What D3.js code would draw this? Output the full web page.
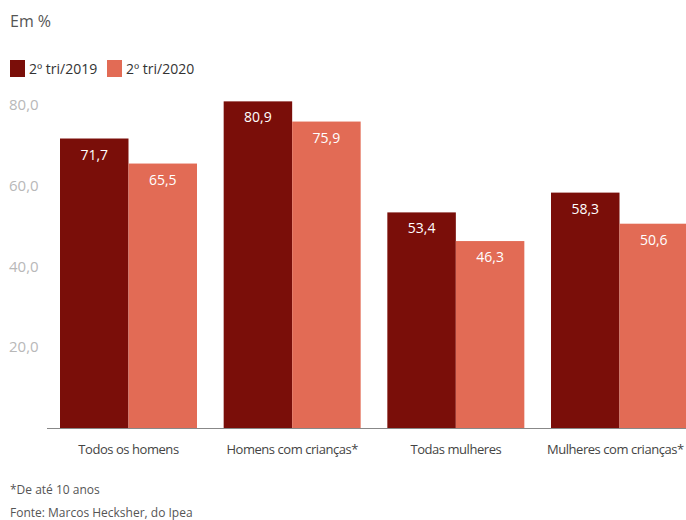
<!DOCTYPE html>
<html>
<head>
<meta charset="utf-8">
<script src="https://cdn.jsdelivr.net/npm/d3@7"></script>
<style>
  body { margin: 0; background: #fff; }
  svg { display: block; font-family: "Open Sans", sans-serif; }
</style>
</head>
<body>
<svg width="686" height="520"></svg>
<script>
// data
var categories = ["Todos os homens", "Homens com crianças*", "Todas mulheres", "Mulheres com crianças*"];
var series = ["2º tri/2019", "2º tri/2020"];
var values2019 = [71.7, 80.9, 53.4, 58.3];
var values2020 = [65.5, 75.9, 46.3, 50.6];
var yTicks = [20, 40, 60, 80];
var colors = ["#7a0e09", "#e26b55"];

var svg = d3.select("svg");
var W = 686;

var x = d3.scaleBand().domain(categories).range([60, 688]).paddingInner(0.163).paddingOuter(0);
var x1 = d3.scaleBand().domain(series).range([0, x.bandwidth()]);
var y = d3.scaleLinear().domain([0, 80]).range([428, 105]);

var rows = categories.map(function(c, i) {
  return {cat: c, vals: [values2019[i], values2020[i]]};
});

// header
svg.append("text").attr("x", 10).attr("y", 27)
  .attr("font-size", 16).attr("fill", "#555").text("Em %");

// legend
var leg = svg.append("g");
var legX = [10, 107];
series.forEach(function(s, i) {
  leg.append("rect").attr("x", legX[i]).attr("y", 60).attr("width", 15).attr("height", 17)
    .attr("fill", colors[i]);
  leg.append("text").attr("x", legX[i] + 19).attr("y", 74)
    .attr("font-size", 14).attr("fill", "#333").text(s);
});

// y tick labels (no lines)
svg.append("g").selectAll("text")
  .data(yTicks).enter().append("text")
  .attr("x", 9).attr("y", function(d) { return y(d) + 5; })
  .attr("font-size", 15).attr("fill", "#b8b8b8")
  .text(function(d) { return d3.format(".1f")(d).replace(".", ","); });

// bars
var g = svg.append("g").selectAll("g")
  .data(rows).enter().append("g")
  .attr("transform", function(d) { return "translate(" + x(d.cat) + ",0)"; });

g.selectAll("rect")
  .data(function(d) { return d.vals.map(function(v, i) { return {s: series[i], v: v, i: i}; }); })
  .enter().append("rect")
  .attr("x", function(d) { return x1(d.s); })
  .attr("width", x1.bandwidth())
  .attr("y", function(d) { return y(d.v); })
  .attr("height", function(d) { return y(0) - y(d.v); })
  .attr("fill", function(d) { return colors[d.i]; });

g.selectAll("text")
  .data(function(d) { return d.vals.map(function(v, i) { return {s: series[i], v: v}; }); })
  .enter().append("text")
  .attr("x", function(d) { return x1(d.s) + x1.bandwidth() / 2; })
  .attr("y", function(d) { return y(d.v) + 21; })
  .attr("text-anchor", "middle")
  .attr("font-size", 14).attr("fill", "#fff")
  .text(function(d) { return d3.format(".1f")(d.v).replace(".", ","); });

// baseline
svg.append("line").attr("x1", 47).attr("x2", W)
  .attr("y1", y(0) + 0.5).attr("y2", y(0) + 0.5)
  .attr("stroke", "#888").attr("stroke-width", 1);

// category labels, nudged in if they would run past the right edge
svg.append("g").selectAll("text")
  .data(categories).enter().append("text")
  .attr("x", function(d) { return x(d) + x.bandwidth() / 2; })
  .attr("y", 454)
  .attr("text-anchor", "middle")
  .attr("font-size", 13).attr("letter-spacing", -0.45).attr("fill", "#444")
  .text(function(d) { return d; })
  .each(function() {
    var b = this.getBBox();
    var over = b.x + b.width - (W - 2);
    if (over > 0) d3.select(this).attr("x", +d3.select(this).attr("x") - over);
  });

// footnotes
svg.append("text").attr("x", 10).attr("y", 494)
  .attr("font-size", 12).attr("fill", "#555").text("*De até 10 anos");
svg.append("text").attr("x", 10).attr("y", 517)
  .attr("font-size", 12).attr("fill", "#555").text("Fonte: Marcos Hecksher, do Ipea");
</script>
</body>
</html>
